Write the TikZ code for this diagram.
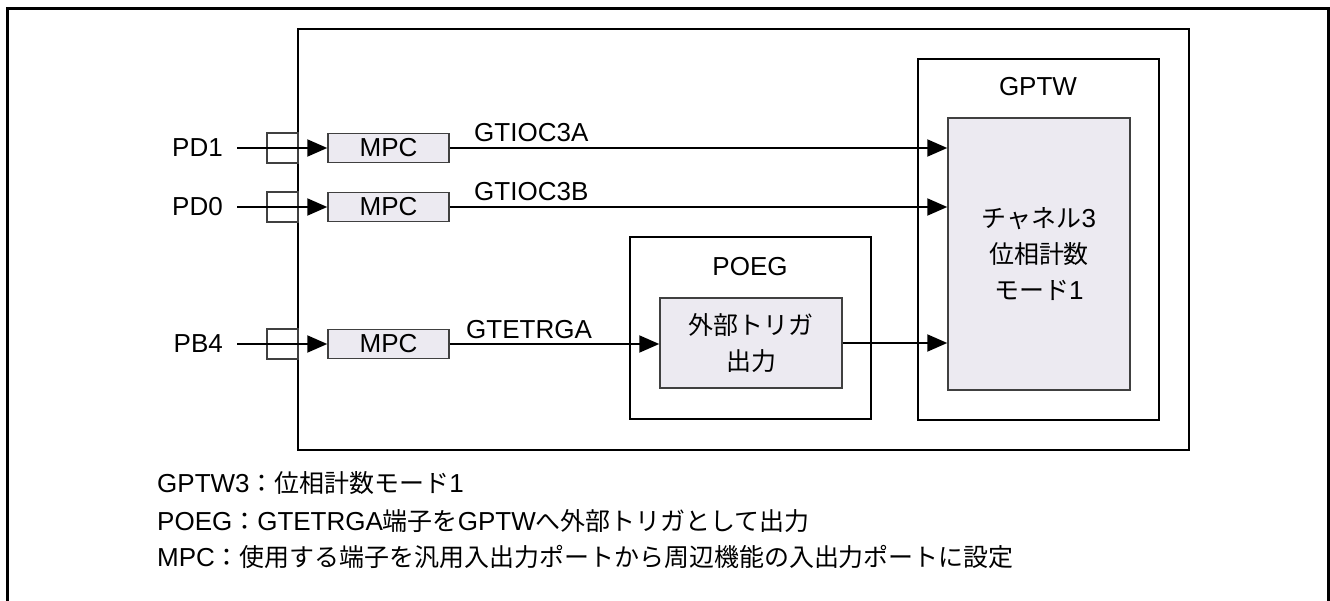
\documentclass[tikz,border=0pt]{standalone}
\usepackage{fontspec}
\setmainfont{Liberation Sans}
\newfontfamily\jpf[Scale=0.96]{Noto Sans CJK JP}
\newcommand\jp[1]{{\jpf #1}}
\usetikzlibrary{arrows.meta}
\definecolor{boxgray}{RGB}{236,234,241}
\definecolor{edgegray}{RGB}{64,64,64}
\tikzset{
  frame/.style={line width=3pt, draw=black},
  blk/.style={draw=black, line width=2pt, inner sep=0pt},
  graybox/.style={draw=edgegray, fill=boxgray, line width=1.5pt, inner sep=0pt},
  mpcbox/.style={graybox, minimum width=121pt, minimum height=29pt},
  pinbox/.style={draw=edgegray, line width=1.5pt, minimum width=31pt, minimum height=30pt, inner sep=0pt},
  conn/.style={line width=2pt, -{Triangle[length=20pt,width=17pt]}},
  lbl/.style={inner sep=0pt}
}
\begin{document}
\begin{tikzpicture}[x=1pt,y=-1pt, font=\fontsize{26}{36}\selectfont]
\useasboundingbox (0,0) rectangle (1330,601);
\fill[white] (0,0) rectangle (1330,601);
\draw[frame] (7,603) |- (1328,9) -- (1328,603);

% chip
\node[blk, minimum width=891pt, minimum height=421pt] (chip) at (743.5,239.5) {};

% GPTW
\node[blk, minimum width=241pt, minimum height=361pt] (gptw) at (1038.5,239.5) {};
\node[lbl] (gptwlbl) at (1038,87) {GPTW};
\node[graybox, minimum width=182pt, minimum height=272pt, align=center] (gin) at (1039,254)
  {\jp{チャネル}3\\\jp{位相計数}\\\jp{モード}1};

% POEG
\node[blk, minimum width=241pt, minimum height=182pt] (poeg) at (750.5,328) {};
\node[lbl] (poeglbl) at (750,267) {POEG};
\node[graybox, minimum width=182pt, minimum height=90pt, align=center] (pin) at (751,343)
  {\jp{外部トリガ}\\\jp{出力}};

% MPC boxes
\node[mpcbox] (m1) at (388.5,148) {MPC};
\node[mpcbox] (m2) at (388.5,207) {MPC};
\node[mpcbox] (m3) at (388.5,344) {MPC};

% pins
\node[pinbox] (q1) at (282.5,148) {};
\node[pinbox] (q2) at (282.5,207) {};
\node[pinbox] (q3) at (282.5,344) {};

% port labels
\node[lbl, anchor=east] (p1) at (223,148) {PD1};
\node[lbl, anchor=east] (p2) at (223,207) {PD0};
\node[lbl, anchor=east] (p3) at (223,344) {PB4};
\coordinate (s1) at (237,148);
\coordinate (s2) at (237,207);
\coordinate (s3) at (237,344);

\draw[conn] (s1) -- (m1.west);
\draw[conn] (s2) -- (m2.west);
\draw[conn] (s3) -- (m3.west);

\draw[conn] (m1.east) -- (gin.west |- m1.east);
\draw[conn] (m2.east) -- (gin.west |- m2.east);
\draw[conn] (m3.east) -- (pin.west |- m3.east);
\draw[conn] (pin.east) -- (gin.west |- pin.east);

\node[lbl, anchor=base west] (l1) at (474,142) {GTIOC3A};
\node[lbl, anchor=base west] (l2) at (474,201) {GTIOC3B};
\node[lbl, anchor=base west] (l3) at (466,338) {GTETRGA};

% notes
\node[lbl, anchor=west] (n1) at (157,483) {GPTW3\jp{：位相計数モード}1};
\node[lbl, anchor=west] (n2) at (157,521) {POEG\jp{：}GTETRGA\jp{端子を}GPTW\jp{へ外部トリガとして出力}};
\node[lbl, anchor=west] (n3) at (157,557) {MPC\jp{：使用する端子を汎用入出力ポートから周辺機能の入出力ポートに設定}};
\end{tikzpicture}
\end{document}
